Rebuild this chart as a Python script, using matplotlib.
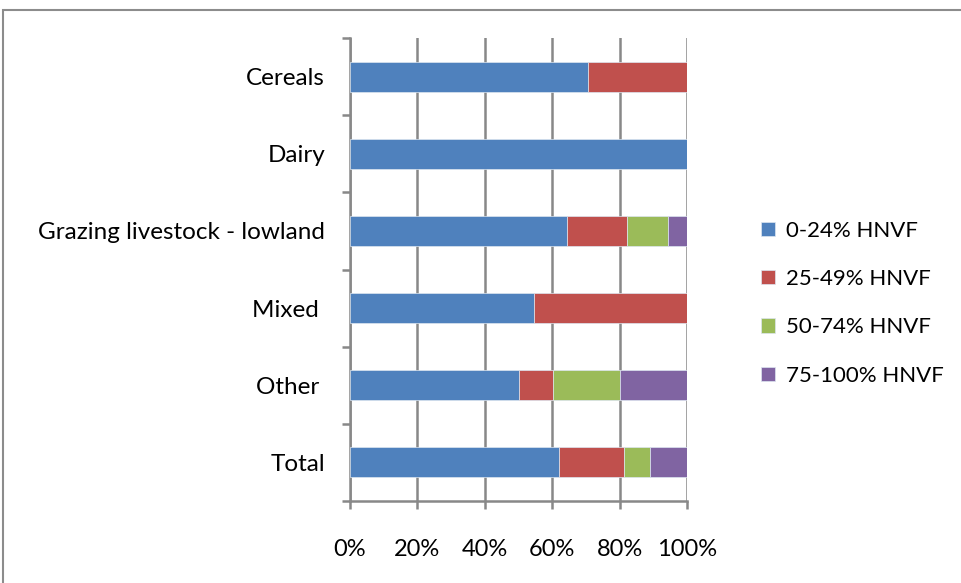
import numpy as np
import matplotlib.pyplot as plt
from matplotlib.patches import Rectangle

# farm types and share of farms in each HNVF band (percent)
farm_types = ['Cereals', 'Dairy', 'Grazing livestock - lowland', 'Mixed ', 'Other ', 'Total']
bands = ['0-24% HNVF', '25-49% HNVF', '50-74% HNVF', '75-100% HNVF']
band_0_24 = [70.5, 100.0, 64.4, 54.7, 50.1, 62.0]
band_25_49 = [29.5, 0.0, 17.9, 45.3, 10.1, 19.2]
band_50_74 = [0.0, 0.0, 12.1, 0.0, 19.8, 7.8]
band_75_100 = [0.0, 0.0, 5.6, 0.0, 20.0, 11.0]
colors = ['#4F81BD', '#C0504D', '#9BBB59', '#8064A2']

plt.rcParams['font.family'] = ['Lato', 'DejaVu Sans']

W, H = 961, 583
fig = plt.figure(figsize=(W / 100, H / 100), dpi=100)
ax = fig.add_axes([350 / W, 1 - 501 / H, 337 / W, 463 / H])

# outer chart border
fig.patches.append(Rectangle((3 / W, -0.1), 1.2, 1.1 - 10 / H, transform=fig.transFigure,
                             fill=False, edgecolor='#8c8c8c', linewidth=1.5))

y = np.arange(len(farm_types))
left = np.zeros(len(farm_types))
for vals, lab, col in zip([band_0_24, band_25_49, band_50_74, band_75_100], bands, colors):
    vals = np.array(vals)
    ax.barh(y, vals, left=left, height=0.39, color=col, edgecolor='#dde6f0',
            linewidth=0.5, label=lab, zorder=3)
    left += vals

ax.set_xlim(0, 100)
ax.set_ylim(len(farm_types) - 0.5, -0.5)
ax.set_xticks(np.arange(0, 101, 20))
ax.set_xticklabels([f'{v}%' for v in range(0, 101, 20)])
ax.set_yticks(y)
ax.set_yticklabels(farm_types)
ax.set_yticks(np.arange(-0.5, len(farm_types), 1), minor=True)

gcol = '#888888'
ax.grid(axis='x', color=gcol, linewidth=1.8, zorder=0)
for s in ['top', 'right']:
    ax.spines[s].set_visible(False)
for s in ['left', 'bottom']:
    ax.spines[s].set_color(gcol)
    ax.spines[s].set_linewidth(1.8)

ax.tick_params(axis='y', which='major', length=0, pad=18, labelsize=17.5)
ax.tick_params(axis='y', which='minor', length=6, width=1.8, color=gcol, direction='out')
ax.tick_params(axis='x', length=6, width=1.8, color=gcol, direction='out', pad=21, labelsize=17)

handles, labels = ax.get_legend_handles_labels()
fig.legend(handles, labels, loc='upper left', bbox_to_anchor=(752 / W, 1 - 212 / H),
           frameon=False, fontsize=16, handlelength=0.62, handleheight=0.62,
           handletextpad=0.5, labelspacing=1.27, borderaxespad=0)

fig.savefig('out.png', dpi=100)
